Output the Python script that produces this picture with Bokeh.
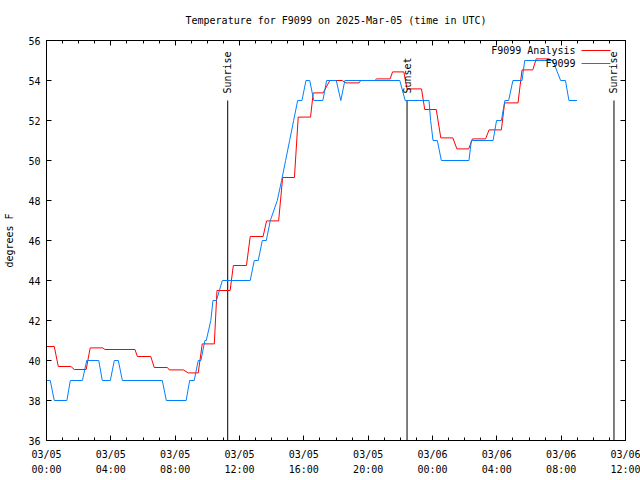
import math
import pandas as pd
from bokeh.plotting import figure
from bokeh.models import (Range1d, FixedTicker, DatetimeTickFormatter, DatetimeAxis,
                          LinearAxis, Label, ColumnDataSource, CustomLabelingPolicy)
from bokeh.embed import file_html
from bokeh.resources import INLINE

# ---------------- data ----------------
obs_time = ["2025-03-05 00:00", "2025-03-05 00:14", "2025-03-05 00:29", "2025-03-05 01:16",
            "2025-03-05 01:29", "2025-03-05 02:14", "2025-03-05 02:30", "2025-03-05 03:15",
            "2025-03-05 03:28", "2025-03-05 03:58", "2025-03-05 04:13", "2025-03-05 04:28",
            "2025-03-05 04:43", "2025-03-05 07:12", "2025-03-05 07:27", "2025-03-05 08:41",
            "2025-03-05 08:54", "2025-03-05 09:11", "2025-03-05 09:26", "2025-03-05 09:36",
            "2025-03-05 09:51", "2025-03-05 09:56", "2025-03-05 10:13", "2025-03-05 10:21",
            "2025-03-05 10:34", "2025-03-05 10:56", "2025-03-05 12:40", "2025-03-05 12:55",
            "2025-03-05 13:10", "2025-03-05 13:25", "2025-03-05 13:40", "2025-03-05 13:55",
            "2025-03-05 14:21", "2025-03-05 14:37", "2025-03-05 14:52", "2025-03-05 15:07",
            "2025-03-05 15:22", "2025-03-05 15:37", "2025-03-05 15:53", "2025-03-05 16:08",
            "2025-03-05 16:22", "2025-03-05 16:37", "2025-03-05 17:11", "2025-03-05 17:25",
            "2025-03-05 18:01", "2025-03-05 18:18", "2025-03-05 18:33", "2025-03-05 21:58",
            "2025-03-05 22:18", "2025-03-05 23:47", "2025-03-05 23:53", "2025-03-06 00:02",
            "2025-03-06 00:18", "2025-03-06 00:33", "2025-03-06 02:16", "2025-03-06 02:25",
            "2025-03-06 03:46", "2025-03-06 03:59", "2025-03-06 04:17", "2025-03-06 04:30",
            "2025-03-06 04:44", "2025-03-06 05:00", "2025-03-06 05:34", "2025-03-06 05:44",
            "2025-03-06 07:29", "2025-03-06 07:58", "2025-03-06 08:16", "2025-03-06 08:29",
            "2025-03-06 08:59"]
obs_temp = [39, 39, 38, 38,
            39, 39, 40, 40,
            39, 39, 40, 40,
            39, 39, 38, 38,
            39, 39, 40, 40,
            41, 41, 42, 43,
            43, 44, 44, 45,
            45, 46, 46, 47,
            48, 49, 50, 51,
            52, 53, 53, 54,
            54, 53, 53, 54,
            54, 53, 54, 54,
            53, 53, 52, 51,
            51, 50, 50, 51,
            51, 52, 52, 53,
            53, 54, 54, 55,
            55, 54, 54, 53,
            53]

ana_time = ["2025-03-05 00:00", "2025-03-05 00:29", "2025-03-05 00:44", "2025-03-05 01:31",
            "2025-03-05 01:44", "2025-03-05 02:28", "2025-03-05 02:43", "2025-03-05 03:30",
            "2025-03-05 03:38", "2025-03-05 05:30", "2025-03-05 05:39", "2025-03-05 06:29",
            "2025-03-05 06:42", "2025-03-05 07:31", "2025-03-05 07:38", "2025-03-05 08:30",
            "2025-03-05 08:49", "2025-03-05 09:26", "2025-03-05 09:41", "2025-03-05 10:26",
            "2025-03-05 10:36", "2025-03-05 11:25", "2025-03-05 11:37", "2025-03-05 12:26",
            "2025-03-05 12:40", "2025-03-05 13:28", "2025-03-05 13:41", "2025-03-05 14:26",
            "2025-03-05 14:41", "2025-03-05 15:25", "2025-03-05 15:39", "2025-03-05 16:25",
            "2025-03-05 16:35", "2025-03-05 17:12", "2025-03-05 17:37", "2025-03-05 18:23",
            "2025-03-05 18:37", "2025-03-05 19:26", "2025-03-05 19:32", "2025-03-05 20:25",
            "2025-03-05 20:32", "2025-03-05 21:22", "2025-03-05 21:31", "2025-03-05 22:13",
            "2025-03-05 22:25", "2025-03-05 23:19", "2025-03-05 23:31", "2025-03-06 00:14",
            "2025-03-06 00:31", "2025-03-06 01:16", "2025-03-06 01:31", "2025-03-06 02:15",
            "2025-03-06 02:29", "2025-03-06 03:18", "2025-03-06 03:31", "2025-03-06 04:17",
            "2025-03-06 04:29", "2025-03-06 05:19", "2025-03-06 05:34", "2025-03-06 06:14",
            "2025-03-06 06:27", "2025-03-06 07:17"]
ana_temp = [40.7, 40.7, 39.7, 39.7,
            39.55, 39.55, 40.63, 40.63,
            40.55, 40.55, 40.2, 40.2,
            39.65, 39.65, 39.53, 39.53,
            39.38, 39.38, 40.83, 40.83,
            43.5, 43.5, 44.75, 44.75,
            46.2, 46.2, 46.98, 46.98,
            49.15, 49.15, 52.17, 52.17,
            53.38, 53.38, 54.0, 54.0,
            53.88, 53.88, 54.0, 54.0,
            54.08, 54.08, 54.43, 54.43,
            53.58, 53.58, 52.55, 52.55,
            51.13, 51.13, 50.58, 50.58,
            51.08, 51.08, 51.53, 51.53,
            52.88, 52.88, 54.53, 54.53,
            55.08, 55.08]

event_names = ["Sunrise", "Sunset", "Sunrise"]
event_time = ["2025-03-05 11:16", "2025-03-05 22:25", "2025-03-06 11:17"]

x_start, x_end = "2025-03-05 00:00", "2025-03-06 12:00"
y_start, y_end = 36, 56
y_ticks = [36, 38, 40, 42, 44, 46, 48, 50, 52, 54, 56]
x_major_hours = 4
x_tick_format = "%m/%d\n%H:%M"

title_text = "Temperature for F9099 on 2025-Mar-05 (time in UTC)"
y_label = "degrees F"
series_names = ["F9099 Analysis", "F9099"]
series_colors = ["#ff0000", "#0080ff"]

# ---------------- layout ----------------
W, H = 640, 480
FL, FR, FT, FB = 46, 625, 40, 440
FONT = "DejaVu Sans Mono"
FS = "10px"

EPOCH = pd.Timestamp("1970-01-01")
def ms(t):
    return (pd.Timestamp(t) - EPOCH).total_seconds() * 1000.0

X0, X1 = ms(x_start), ms(x_end)

def px_to_x(px):
    return X0 + (X1 - X0) * (px - FL) / (FR - FL)

def py_to_y(py):
    return y_start + (y_end - y_start) * (FB - py) / (FB - FT)

p = figure(width=W, height=H, output_backend="svg", toolbar_location=None,
           x_axis_type="datetime",
           x_range=Range1d(X0, X1), y_range=Range1d(y_start, y_end),
           min_border_left=FL, min_border_right=W - FR,
           min_border_top=FT, min_border_bottom=H - FB)
p.background_fill_color = "white"
p.border_fill_color = "white"
p.outline_line_color = "black"
p.outline_line_width = 1
p.xgrid.visible = False
p.ygrid.visible = False

# ticks
step = x_major_hours * 3600 * 1000.0
n_major = int(round((X1 - X0) / step))
major = [X0 + i * step for i in range(n_major + 1)]
minor = [X0 + i * 3600 * 1000.0 for i in range(int(round((X1 - X0) / 3600000.0)) + 1)]
xticker = FixedTicker(ticks=major, minor_ticks=minor)
yticker = FixedTicker(ticks=y_ticks, minor_ticks=[])
fmt = DatetimeTickFormatter(hours=x_tick_format, hourmin=x_tick_format, days=x_tick_format,
                            minutes=x_tick_format, months=x_tick_format, years=x_tick_format)

hide_all = CustomLabelingPolicy(code="""
const ids = [...indices];
for (const i of ids) { indices.unset(i) }
return indices
""")

def style_axis(ax, show_labels=True):
    ax.axis_line_color = "black"
    ax.major_tick_line_color = "black"
    ax.minor_tick_line_color = "black"
    ax.major_tick_in = 5
    ax.major_tick_out = 0
    ax.minor_tick_in = 3
    ax.minor_tick_out = 0
    ax.major_label_text_font = FONT
    ax.major_label_text_color = "black"
    if show_labels:
        ax.major_label_text_font_size = FS
    else:
        ax.major_label_text_font_size = "1px"
        ax.major_label_standoff = 0
        ax.major_label_policy = hide_all

xa = p.xaxis[0]
xa.ticker = xticker
xa.formatter = fmt
style_axis(xa)
xa.major_label_standoff = 8
xa.major_label_text_line_height = 1.4

ya = p.yaxis[0]
ya.ticker = yticker
style_axis(ya)
ya.major_label_standoff = 6
ya.axis_label = y_label
ya.axis_label_text_font = FONT
ya.axis_label_text_font_size = FS
ya.axis_label_text_font_style = "normal"
ya.axis_label_text_color = "black"
ya.axis_label_standoff = 10

top = DatetimeAxis(ticker=xticker, formatter=fmt)
style_axis(top, show_labels=False)
p.add_layout(top, "above")
right = LinearAxis(ticker=yticker)
style_axis(right, show_labels=False)
p.add_layout(right, "right")

p.title.text = title_text
p.title.align = "center"
p.title.text_font = FONT
p.title.text_font_size = FS
p.title.text_font_style = "normal"
p.title.text_color = "black"
p.title.standoff = 18

# sunrise / sunset markers
ev_x = [ms(t) for t in event_time]
p.segment(x0=ev_x, y0=[y_start] * len(ev_x), x1=ev_x, y1=[53.0] * len(ev_x),
          line_color="black", line_width=1)
for name, x in zip(event_names, ev_x):
    p.add_layout(Label(x=x, y=53.35, text=name, angle=math.pi / 2,
                       text_align="left", text_baseline="middle",
                       text_font=FONT, text_font_size=FS, text_color="black"))

# series
ana_src = ColumnDataSource(dict(t=[ms(t) for t in ana_time], v=ana_temp))
obs_src = ColumnDataSource(dict(t=[ms(t) for t in obs_time], v=obs_temp))
p.line("t", "v", source=ana_src, line_color=series_colors[0], line_width=1)
p.line("t", "v", source=obs_src, line_color=series_colors[1], line_width=1)

# key (text then sample line, top right)
for i, (name, col) in enumerate(zip(series_names, series_colors)):
    py = 50 + 13 * i
    p.add_layout(Label(x=px_to_x(575), y=py_to_y(py), text=name,
                       text_align="right", text_baseline="middle",
                       text_font=FONT, text_font_size=FS, text_color="black"))
    p.segment(x0=[px_to_x(581)], y0=[py_to_y(py)], x1=[px_to_x(610)], y1=[py_to_y(py)],
              line_color=col, line_width=1)

open("out.html", "w").write(file_html(p, INLINE))
